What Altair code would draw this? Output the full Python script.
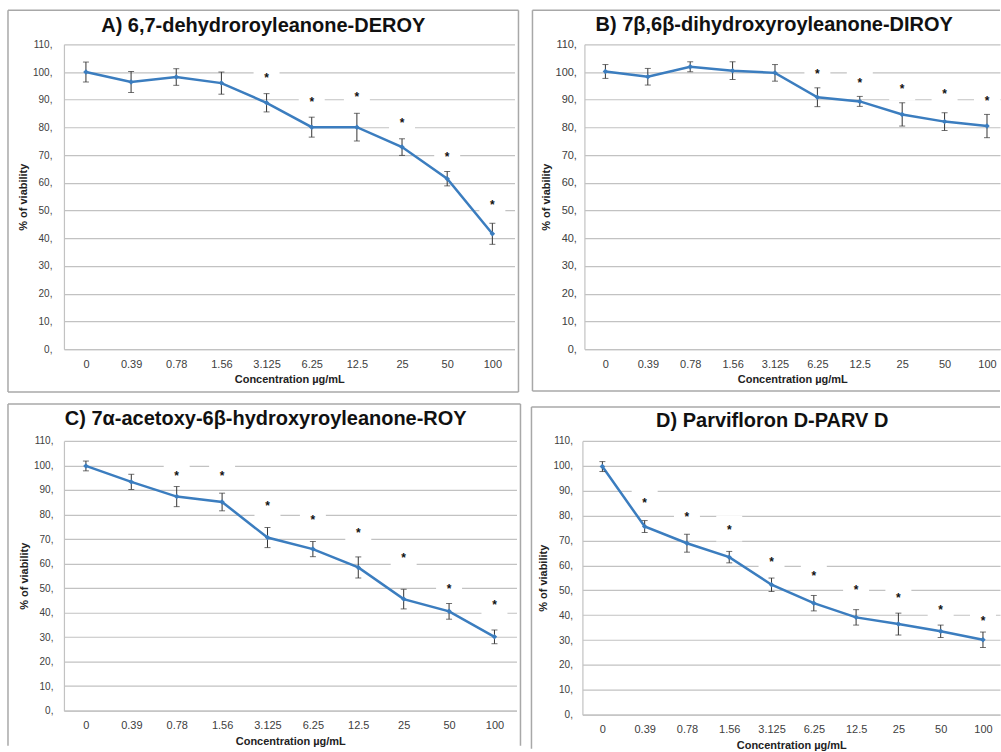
import json
import altair as alt
import pandas as pd

FONT = "Liberation Sans, Arial, Helvetica, sans-serif"
LINE = "#3b7dbf"
GRID = "#c2c2c2"
BORDER = "#a8a8a8"

CONC = ["0", "0.39", "0.78", "1.56", "3.125", "6.25", "12.5", "25", "50", "100"]
Y_TICKS = [0, 10, 20, 30, 40, 50, 60, 70, 80, 90, 100, 110]

A_TITLE = "A) 6,7-dehydroroyleanone-DEROY"
A_MEAN = [100.0, 96.4, 98.2, 96.0, 88.9, 80.1, 80.1, 72.9, 61.5, 41.6]
A_ERR = [3.6, 3.8, 3.0, 4.0, 3.3, 3.6, 5.0, 3.0, 2.6, 3.8]
A_STAR_AT = ["3.125", "6.25", "12.5", "25", "50", "100"]
A_STAR_Y = [98.8, 90.1, 92.2, 82.5, 70.5, 53.0]

B_TITLE = "B) 7β,6β-dihydroxyroyleanone-DIROY"
B_MEAN = [100.2, 98.3, 101.9, 100.5, 99.7, 90.9, 89.4, 84.7, 82.1, 80.5]
B_ERR = [2.5, 3.0, 1.8, 3.2, 3.0, 3.4, 1.8, 4.2, 3.2, 4.2]
B_STAR_AT = ["6.25", "12.5", "25", "50", "100"]
B_STAR_Y = [100.3, 97.3, 95.1, 93.0, 90.7]

C_TITLE = "C) 7α-acetoxy-6β-hydroxyroyleanone-ROY"
C_MEAN = [99.8, 93.3, 87.3, 85.1, 70.6, 65.9, 58.4, 45.5, 40.5, 30.1]
C_ERR = [2.0, 3.1, 4.1, 3.6, 4.1, 3.1, 4.3, 4.0, 3.2, 2.8]
C_STAR_AT = ["0.78", "1.56", "3.125", "6.25", "12.5", "25", "50", "100"]
C_STAR_Y = [97.1, 97.0, 84.5, 79.0, 73.6, 63.6, 50.7, 44.5]

D_TITLE = "D) Parvifloron D-PARV D"
D_MEAN = [99.7, 75.6, 68.9, 63.3, 52.2, 44.8, 39.1, 36.4, 33.5, 30.1]
D_ERR = [2.0, 2.4, 3.6, 2.3, 2.7, 3.1, 3.1, 4.4, 2.5, 3.1]
D_STAR_AT = ["0.39", "0.78", "1.56", "3.125", "6.25", "12.5", "25", "50", "100"]
D_STAR_Y = [86.3, 80.7, 75.6, 62.5, 56.9, 51.5, 48.2, 43.1, 38.8]


def panel(title, mean, err, star_at, star_y, w, h, xdom, box, sides,
          title_pos, ylab_pad, ylab_size):
    df = pd.DataFrame({"i": list(range(len(CONC))), "conc": CONC,
                       "mean": mean, "err": err})
    df["lo"] = df["mean"] - df["err"]
    df["hi"] = df["mean"] + df["err"]
    sdf = pd.DataFrame({"i": [CONC.index(c) for c in star_at], "sy": star_y})

    xs = alt.Scale(domain=xdom, nice=False, zero=False)
    ys = alt.Scale(domain=[0, 110], nice=False, zero=False)
    xax = alt.Axis(values=list(range(len(CONC))),
                   labelExpr=f"{json.dumps(CONC)}[datum.value]",
                   title="Concentration µg/mL", grid=False, ticks=False,
                   tickSize=0, labelPadding=9, titlePadding=5,
                   labelFontSize=11, titleFontSize=11, labelAngle=0,
                   domainColor=GRID, domainWidth=1.2)
    yax = alt.Axis(values=Y_TICKS, labelExpr="datum.value + ','",
                   title="% of viability", grid=True, gridColor=GRID,
                   gridWidth=1.2, ticks=False, tickSize=0,
                   labelPadding=ylab_pad, titlePadding=4,
                   labelFontSize=ylab_size, titleFontSize=11,
                   domainColor=GRID, domainWidth=1.2)

    def X():
        return alt.X("i:Q", scale=xs, axis=xax)

    def Y(f):
        return alt.Y(f + ":Q", scale=ys, axis=yax)

    boxes = alt.Chart(sdf).mark_square(size=676, color="white", opacity=1,
                                       yOffset=2).encode(x=X(), y=Y("sy"))
    line = alt.Chart(df).mark_line(color=LINE, strokeWidth=2.5).encode(
        x=X(), y=Y("mean"))
    stems = alt.Chart(df).mark_rule(color="#333333", strokeWidth=1).encode(
        x=X(), y=Y("lo"), y2="hi")
    cap_lo = alt.Chart(df).mark_tick(orient="horizontal", size=6, thickness=1,
                                     color="#333333").encode(x=X(), y=Y("lo"))
    cap_hi = alt.Chart(df).mark_tick(orient="horizontal", size=6, thickness=1,
                                     color="#333333").encode(x=X(), y=Y("hi"))
    pts = alt.Chart(df).mark_point(filled=True, shape="diamond", size=30,
                                   color=LINE, opacity=1).encode(
        x=X(), y=Y("mean"))
    stars = alt.Chart(sdf).mark_text(text="*", fontSize=12, fontWeight="bold",
                                     baseline="alphabetic", dy=7,
                                     color="#111111", font=FONT).encode(
        x=X(), y=Y("sy"))
    ttl = alt.Chart(pd.DataFrame({"t": [title]})).mark_text(
        fontSize=20, fontWeight="bold", align="center", baseline="alphabetic",
        font=FONT, color="#111111").encode(
        x=alt.value(title_pos[0]), y=alt.value(title_pos[1]), text="t:N")

    L, R, T, B = box
    one = pd.DataFrame({"k": [0]})
    seg = {"top": (L, T, R, T), "bottom": (L, B, R, B),
           "left": (L, T, L, B), "right": (R, T, R, B)}
    rules = []
    for s in sides:
        x1, y1, x2, y2 = seg[s]
        rules.append(alt.Chart(one).mark_rule(color=BORDER, strokeWidth=1.5)
                     .encode(x=alt.value(x1), x2=alt.value(x2),
                             y=alt.value(y1), y2=alt.value(y2)))

    return alt.layer(boxes, line, stems, cap_lo, cap_hi, pts, stars, ttl,
                     *rules).properties(width=w, height=h)


wA, hA = 451, 305
wB, hB = 416, 305
wC, hC = 453, 270
wD, hD = 418, 274

pA = panel(A_TITLE, A_MEAN, A_ERR, A_STAR_AT, A_STAR_Y, wA, hA,
           [-0.487, 9.49], (-56, wA + 4, -34, hA + 43),
           ["top", "bottom", "left", "right"], (199.5, -12.3), 12, 10)
pB = panel(B_TITLE, B_MEAN, B_ERR, B_STAR_AT, B_STAR_Y, wB, hB,
           [-0.495, 9.307], (-52, wB, -34, hB + 42),
           ["top", "bottom", "left"], (190, -13), 8, 11)
pC = panel(C_TITLE, C_MEAN, C_ERR, C_STAR_AT, C_STAR_Y, wC, hC,
           [-0.484, 9.485], (-56, wC + 4, -37, hC + 35),
           ["top", "left", "right"], (202, -15.7), 11, 10)
pD = panel(D_TITLE, D_MEAN, D_ERR, D_STAR_AT, D_STAR_Y, wD, hD,
           [-0.472, 9.403], (-51, wD, -34, hD + 34),
           ["top", "left"], (190, -13.7), 10, 10)

row1 = alt.hconcat(pA, pB, spacing=12)
row2 = alt.hconcat(pC, pD, spacing=9)

chart = alt.vconcat(row1, row2, spacing=10).properties(
    padding={"left": 7, "top": 9, "right": 0, "bottom": 0},
    background="white",
).configure_view(stroke=None).configure_axis(
    labelFont=FONT, titleFont=FONT, labelColor="#404040",
    titleColor="#222222", titleFontWeight="bold",
)

chart.save("out.html", embed_options={"renderer": "svg", "actions": False})
